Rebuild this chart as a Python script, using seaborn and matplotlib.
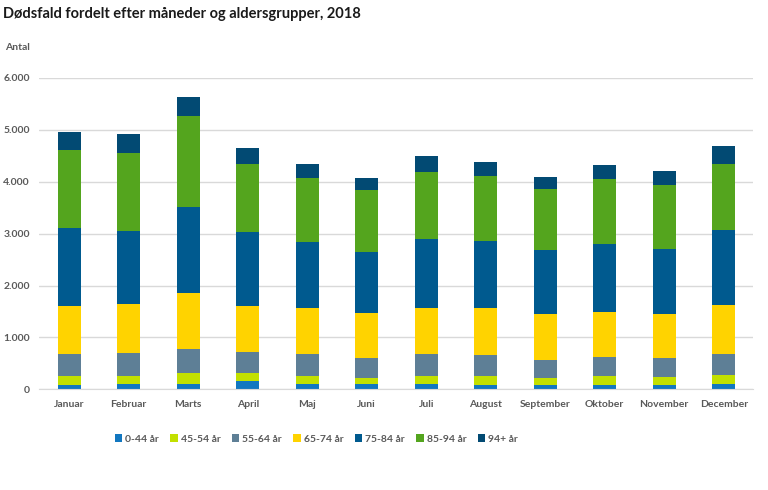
import pandas as pd
import matplotlib.pyplot as plt
import seaborn as sns
from matplotlib.patches import Patch
from matplotlib.ticker import FuncFormatter

months = ["Januar", "Februar", "Marts", "April", "Maj", "Juni", "Juli",
          "August", "September", "Oktober", "November", "December"]
groups = ["0-44 år", "45-54 år", "55-64 år", "65-74 år", "75-84 år", "85-94 år", "94+ år"]
colors = ["#1277c0", "#c2e000", "#5e7f96", "#ffd300", "#005a8f", "#54a51e", "#024a73"]

# deaths per age group, one list per group
age_0_44 = [90, 108, 108, 154, 108, 97, 97, 89, 89, 89, 89, 108]
age_45_54 = [168, 149, 201, 155, 155, 121, 160, 168, 129, 168, 148, 174]
age_55_64 = [419, 438, 475, 417, 413, 386, 424, 399, 348, 361, 361, 394]
age_65_74 = [932, 952, 1062, 882, 899, 863, 894, 919, 893, 874, 861, 951]
age_75_84 = [1506, 1403, 1668, 1429, 1255, 1184, 1327, 1274, 1230, 1300, 1249, 1448]
age_85_94 = [1492, 1506, 1749, 1312, 1249, 1191, 1287, 1269, 1164, 1262, 1223, 1274]
age_94p = [348, 367, 374, 309, 270, 231, 315, 270, 240, 276, 270, 334]

df = pd.DataFrame({
    "month": months,
    groups[0]: age_0_44,
    groups[1]: age_45_54,
    groups[2]: age_55_64,
    groups[3]: age_65_74,
    groups[4]: age_75_84,
    groups[5]: age_85_94,
    groups[6]: age_94p,
})

# cumulative sums for the stacked look
cum = df[groups].cumsum(axis=1)
cum["month"] = df["month"]

sns.set_style("white")
plt.rcParams["font.family"] = ["Lato", "DejaVu Sans"]
plt.rcParams["font.weight"] = "bold"

fig = plt.figure(figsize=(7.68, 4.9), dpi=100)
ax = fig.add_axes([0.0514, 0.2055, 0.9297, 0.6355])

# draw tallest first so the lower segments sit on top
for g, c in zip(reversed(groups), reversed(colors)):
    sns.barplot(data=cum, x="month", y=g, color=c, width=0.39,
                linewidth=0, saturation=1, ax=ax, order=months)

ax.set_ylim(0, 6000)
ax.set_yticks(range(0, 6001, 1000))
ax.yaxis.set_major_formatter(FuncFormatter(lambda v, p: f"{int(v):,}".replace(",", ".")))
ax.yaxis.grid(True, color="#d9d9d9", linewidth=1)
ax.set_axisbelow(True)
for s in ["top", "right", "left"]:
    ax.spines[s].set_visible(False)
ax.spines["bottom"].set_color("#d9d9d9")
ax.tick_params(axis="both", length=0, labelsize=7.5, labelcolor="#595959")
ax.tick_params(axis="x", pad=8)
ax.tick_params(axis="y", pad=7)
ax.set_xlabel("")
ax.set_ylabel("")

fig.text(0.004, 0.985, "Dødsfald fordelt efter måneder og aldersgrupper, 2018",
         fontsize=10.5, color="#1a1a1a", va="top", ha="left")
fig.text(0.006, 0.904, "Antal", fontsize=7.5, color="#595959",
         va="center", ha="left")

handles = [Patch(facecolor=c, edgecolor="none", label=g) for g, c in zip(groups, colors)]
fig.legend(handles=handles, loc="center", bbox_to_anchor=(0.412, 0.104), ncol=7,
           frameon=False, fontsize=7.5, handlelength=0.7, handleheight=0.7,
           handletextpad=0.3, columnspacing=1.1, labelcolor="#595959")

fig.savefig("out.png", dpi=100)
